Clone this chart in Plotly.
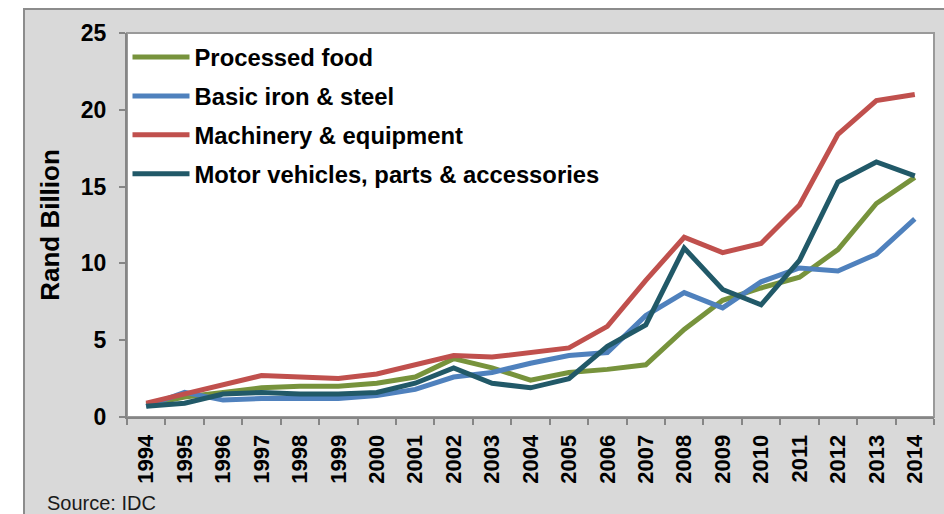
import plotly.graph_objects as go

# Categories (years) and series values, Rand billion
years = ["1994", "1995", "1996", "1997", "1998", "1999", "2000", "2001", "2002", "2003", "2004",
         "2005", "2006", "2007", "2008", "2009", "2010", "2011", "2012", "2013", "2014"]

processed_food = [0.8, 1.3, 1.6, 1.9, 2.0, 2.0, 2.2, 2.6, 3.8, 3.2, 2.4,
                  2.9, 3.1, 3.4, 5.7, 7.6, 8.4, 9.1, 10.9, 13.9, 15.6]
basic_iron_steel = [0.7, 1.6, 1.1, 1.2, 1.2, 1.2, 1.4, 1.8, 2.6, 2.9, 3.5,
                    4.0, 4.2, 6.6, 8.1, 7.1, 8.8, 9.7, 9.5, 10.6, 12.9]
machinery_equipment = [0.9, 1.5, 2.1, 2.7, 2.6, 2.5, 2.8, 3.4, 4.0, 3.9, 4.2,
                       4.5, 5.9, 8.9, 11.7, 10.7, 11.3, 13.8, 18.4, 20.6, 21.0]
motor_vehicles = [0.7, 0.9, 1.5, 1.6, 1.5, 1.5, 1.6, 2.2, 3.2, 2.2, 1.9,
                  2.5, 4.6, 6.0, 11.0, 8.3, 7.3, 10.2, 15.3, 16.6, 15.7]

series = [
    ("Processed food", processed_food, "#77933C"),
    ("Basic iron & steel", basic_iron_steel, "#4F81BD"),
    ("Machinery & equipment", machinery_equipment, "#C0504D"),
    ("Motor vehicles, parts & accessories", motor_vehicles, "#215968"),
]

FONT = "Liberation Sans, Arial, sans-serif"
AXIS_GREY = "#868686"

fig = go.Figure()
for i, (name, values, color) in enumerate(series):
    fig.add_trace(go.Scatter(
        x=years, y=values, name=name, mode="lines",
        line=dict(color=color, width=5),
        legendgroup=f"g{i}",
    ))

W, H = 944, 514
L, R, T, B = 127, 10, 33, 97
pw, ph = W - L - R, H - T - B


def px_x(p):
    return (p - L) / pw


def px_y(p):
    return (H - B - p) / ph


fig.update_layout(
    width=W, height=H, autosize=False,
    margin=dict(l=L, r=R, t=T, b=B, pad=0),
    paper_bgcolor="white",
    plot_bgcolor="white",
    font=dict(family=FONT, color="black"),
    showlegend=True,
    legend=dict(
        x=px_x(127.5), y=px_y(35), xanchor="left", yanchor="top",
        bgcolor="rgba(0,0,0,0)",
        font=dict(family=FONT, size=23.8, weight="bold", color="black"),
        itemwidth=57,
        tracegroupgap=5,
        traceorder="grouped",
    ),
    shapes=[
        # outer grey chart frame
        dict(type="rect", xref="paper", yref="paper", layer="below",
             x0=px_x(24), x1=px_x(960), y0=px_y(530), y1=px_y(9),
             fillcolor="#D9D9D9", line=dict(color="#8C8C8C", width=2)),
        # white plot area with border
        dict(type="rect", xref="paper", yref="paper", layer="below",
             x0=0, x1=1, y0=0, y1=1,
             fillcolor="white", line=dict(color="#9A9A9A", width=2)),
    ],
    annotations=[
        dict(text="Source: IDC", xref="paper", yref="paper",
             x=px_x(45), y=px_y(490), xanchor="left", yanchor="top",
             showarrow=False, font=dict(family=FONT, size=20, color="#1a1a1a")),
    ],
)

fig.update_xaxes(
    type="category",
    range=[-0.5, len(years) - 0.5],
    tickson="boundaries",
    ticks="outside", ticklen=6, tickwidth=2, tickcolor=AXIS_GREY,
    showline=True, linecolor=AXIS_GREY, linewidth=2,
    showgrid=False, zeroline=False,
    tickangle=-90,
    ticklabelstandoff=7,
    tickfont=dict(family=FONT, size=22, weight="bold", color="black"),
)

fig.update_yaxes(
    range=[0, 25], dtick=5,
    ticks="outside", ticklen=6, tickwidth=2, tickcolor=AXIS_GREY,
    showline=True, linecolor=AXIS_GREY, linewidth=2,
    showgrid=False, zeroline=False,
    ticklabelstandoff=8,
    tickfont=dict(family=FONT, size=23, weight="bold", color="black"),
    title=dict(text="Rand Billion", standoff=14,
               font=dict(family=FONT, size=26, weight="bold", color="black")),
)

fig.write_html("out.html")
